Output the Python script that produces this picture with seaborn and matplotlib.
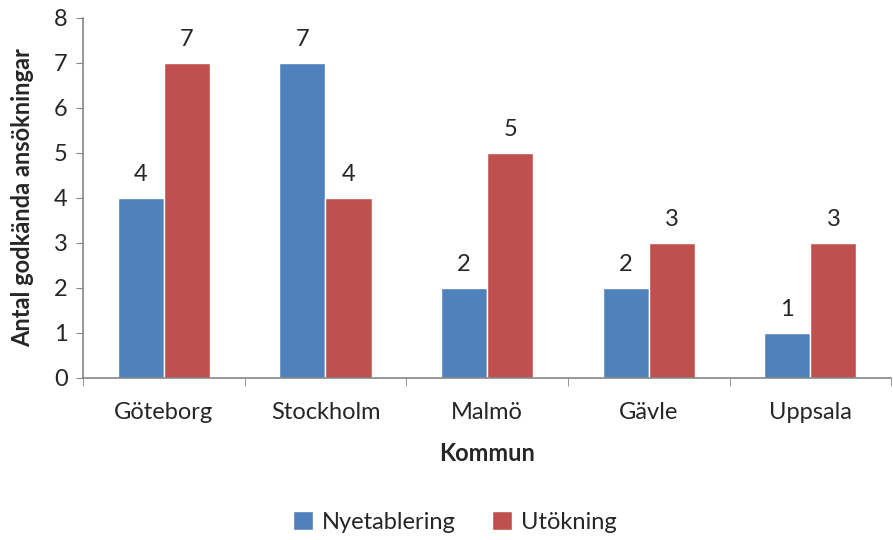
import pandas as pd
import matplotlib
matplotlib.use('Agg')
import matplotlib.pyplot as plt
import seaborn as sns

kommuner = ['Göteborg', 'Stockholm', 'Malmö', 'Gävle', 'Uppsala']
nyetablering = [4, 7, 2, 2, 1]
utokning = [7, 4, 5, 3, 3]

df = pd.DataFrame({
    'Kommun': kommuner * 2,
    'Antal': nyetablering + utokning,
    'Typ': ['Nyetablering'] * len(kommuner) + ['Utökning'] * len(kommuner),
})

sns.set_style('white')
plt.rcParams['font.family'] = ['Lato', 'DejaVu Sans']
fs = 17

fig = plt.figure(figsize=(8.93, 5.4), dpi=100)
ax = fig.add_axes([0.093, 0.30, 0.905, 0.667])

sns.barplot(data=df, x='Kommun', y='Antal', hue='Typ', order=kommuner,
            palette=['#4f81bd', '#c0504d'], width=0.57, gap=0,
            saturation=1, ax=ax, legend=True)

for cont in ax.containers:
    ax.bar_label(cont, fmt='%d', padding=9, fontsize=fs)

ax.set_ylim(0, 8)
ax.set_xlim(-0.5, len(kommuner) - 0.5)
ax.set_yticks(range(0, 9))
ax.tick_params(axis='y', labelsize=fs, length=5, color='#868686', left=True, direction='out', pad=6)
ax.tick_params(axis='x', which='major', labelsize=fs, length=0, pad=17)
ax.set_xticks([i - 0.5 for i in range(len(kommuner) + 1)], minor=True)
ax.tick_params(axis='x', which='minor', length=6, color='#868686', bottom=True, direction='out')

for side in ['top', 'right']:
    ax.spines[side].set_visible(False)
for side in ['left', 'bottom']:
    ax.spines[side].set_color('#868686')
    ax.spines[side].set_linewidth(1.2)

ax.set_xlabel('Kommun', fontsize=fs, fontweight='bold', labelpad=14)
ax.set_ylabel('Antal godkända ansökningar', fontsize=fs, fontweight='bold', labelpad=14)

handles, labels = ax.get_legend_handles_labels()
ax.legend(handles, labels, loc='center', bbox_to_anchor=(0.46, -0.40),
          ncol=2, frameon=False, fontsize=fs, handlelength=0.85, handleheight=0.85,
          handletextpad=0.4, columnspacing=1.5)

fig.savefig('out.png', dpi=100)
